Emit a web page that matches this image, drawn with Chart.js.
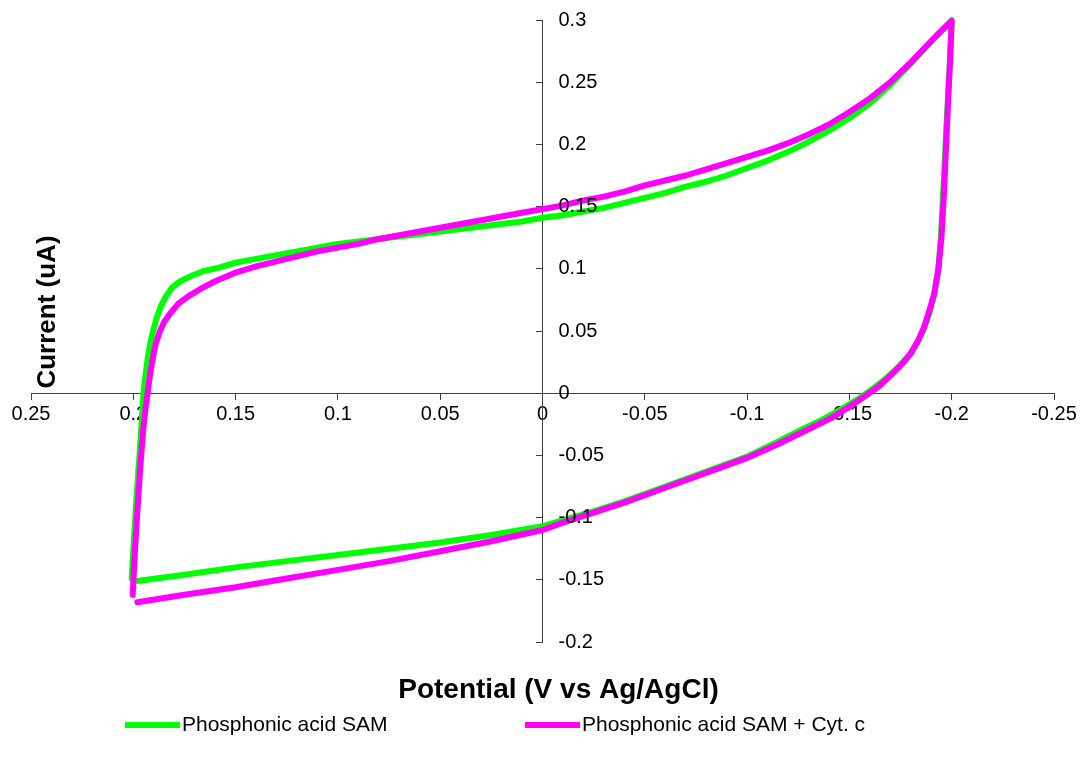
<!DOCTYPE html>
<html>
<head>
<meta charset="utf-8">
<script src="https://cdn.jsdelivr.net/npm/chart.js@4/dist/chart.umd.min.js"></script>
<style>
html,body{margin:0;padding:0;background:#ffffff;}
#wrap{width:1080px;height:766px;}
</style>
</head>
<body>
<div id="wrap"><canvas id="c" width="1080" height="766"></canvas></div>
<script>
// ---------- data ----------
const seriesNames = ['Phosphonic acid SAM', 'Phosphonic acid SAM + Cyt. c'];

// Phosphonic acid SAM: forward (upper) branch, reverse (lower) branch
const samX = [0.2008, 0.1998, 0.1985, 0.197, 0.1958, 0.195, 0.194, 0.1928, 0.1915, 0.190, 0.1885, 0.1865, 0.184, 0.181, 0.177, 0.172, 0.166, 0.158, 0.150,
  0.140, 0.130, 0.120, 0.110, 0.100, 0.090, 0.080, 0.070, 0.060, 0.050, 0.040, 0.030, 0.020, 0.010, 0.000,
  -0.010, -0.020, -0.030, -0.040, -0.050, -0.060, -0.070, -0.080, -0.090, -0.100, -0.110, -0.120, -0.130, -0.140, -0.150, -0.160, -0.170, -0.180, -0.190, -0.196, -0.200,
  -0.1992, -0.1982, -0.197, -0.1958, -0.1947, -0.1935, -0.1915, -0.189, -0.186, -0.183, -0.179, -0.174, -0.168, -0.161, -0.154, -0.146, -0.137, -0.127, -0.115,
  -0.100, -0.085, -0.070, -0.055, -0.040, -0.025, -0.010, 0.000, 0.025, 0.050, 0.075, 0.100, 0.125, 0.150, 0.175, 0.198];
const samY = [-0.149, -0.120, -0.085, -0.050, -0.020, 0.000, 0.015, 0.030, 0.042, 0.052, 0.061, 0.070, 0.078, 0.085, 0.090, 0.094, 0.098, 0.101, 0.105,
  0.108, 0.111, 0.114, 0.117, 0.120, 0.122, 0.124, 0.126, 0.128, 0.130, 0.132, 0.134, 0.136, 0.138, 0.141,
  0.143, 0.146, 0.149, 0.153, 0.157, 0.161, 0.166, 0.170, 0.175, 0.181, 0.187, 0.194, 0.202, 0.211, 0.221, 0.233, 0.248, 0.265, 0.283, 0.293, 0.300,
  0.270, 0.240, 0.200, 0.160, 0.125, 0.100, 0.080, 0.064, 0.050, 0.040, 0.030, 0.021, 0.012, 0.003, -0.005, -0.013, -0.021, -0.029, -0.039,
  -0.051, -0.060, -0.069, -0.078, -0.087, -0.095, -0.102, -0.107, -0.114, -0.120, -0.125, -0.130, -0.135, -0.140, -0.146, -0.151];

// Phosphonic acid SAM + Cyt. c
const cytX = [0.2003, 0.1993, 0.198, 0.1966, 0.1952, 0.194, 0.193, 0.1918, 0.1905, 0.189, 0.1872, 0.185, 0.182, 0.178, 0.173, 0.167, 0.160, 0.150,
  0.140, 0.130, 0.120, 0.110, 0.100, 0.090, 0.080, 0.070, 0.060, 0.050, 0.040, 0.030, 0.020, 0.010, 0.000,
  -0.010, -0.020, -0.030, -0.040, -0.050, -0.060, -0.070, -0.080, -0.090, -0.100, -0.110, -0.120, -0.130, -0.140, -0.150, -0.160, -0.170, -0.180, -0.190, -0.196, -0.200,
  -0.1993, -0.1984, -0.1973, -0.1962, -0.195, -0.1935, -0.1915, -0.189, -0.1865, -0.1835, -0.180, -0.176, -0.170, -0.164, -0.157, -0.150, -0.141, -0.130, -0.115,
  -0.100, -0.085, -0.070, -0.055, -0.040, -0.025, -0.010, 0.000, 0.025, 0.050, 0.075, 0.100, 0.125, 0.150, 0.175, 0.198];
const cytY = [-0.162, -0.130, -0.095, -0.060, -0.030, -0.012, 0.000, 0.015, 0.028, 0.040, 0.049, 0.057, 0.064, 0.072, 0.078, 0.084, 0.090, 0.097,
  0.102, 0.106, 0.110, 0.114, 0.117, 0.120, 0.124, 0.127, 0.130, 0.133, 0.136, 0.139, 0.142, 0.145, 0.148,
  0.151, 0.155, 0.158, 0.162, 0.167, 0.171, 0.175, 0.180, 0.185, 0.190, 0.195, 0.201, 0.208, 0.216, 0.226, 0.237, 0.250, 0.266, 0.283, 0.293, 0.299,
  0.270, 0.240, 0.200, 0.160, 0.125, 0.100, 0.080, 0.066, 0.053, 0.042, 0.032, 0.024, 0.014, 0.005, -0.003, -0.011, -0.020, -0.029, -0.041,
  -0.052, -0.061, -0.070, -0.079, -0.088, -0.096, -0.104, -0.110, -0.119, -0.127, -0.135, -0.142, -0.149, -0.156, -0.162, -0.168];

const xTickValues = [0.25, 0.2, 0.15, 0.1, 0.05, 0, -0.05, -0.1, -0.15, -0.2, -0.25];
const xTickLabels = ['0.25', '0.2', '0.15', '0.1', '0.05', '0', '-0.05', '-0.1', '-0.15', '-0.2', '-0.25'];
const yTickValues = [0.3, 0.25, 0.2, 0.15, 0.1, 0.05, 0, -0.05, -0.1, -0.15, -0.2];
const yTickLabels = ['0.3', '0.25', '0.2', '0.15', '0.1', '0.05', '0', '-0.05', '-0.1', '-0.15', '-0.2'];

const xTitle = 'Potential (V vs Ag/AgCl)';
const yTitle = 'Current (uA)';
const seriesColors = ['#00FF00', '#FF00FF'];

// ---------- chart ----------
const FONT = '"Liberation Sans", Arial, Helvetica, sans-serif';
const AXIS_COLOR = '#404040';

const overlay = {
  id: 'overlay',
  afterDraw(chart) {
    const ctx = chart.ctx;
    const xs = chart.scales.x, ys = chart.scales.y;
    ctx.save();
    ctx.fillStyle = '#000000';
    // y tick labels, right of the centred axis
    ctx.font = '20px ' + FONT;
    ctx.textAlign = 'left';
    ctx.textBaseline = 'middle';
    const axisX = xs.getPixelForValue(0);
    yTickValues.forEach((v, i) => {
      ctx.fillText(yTickLabels[i], axisX + 16, ys.getPixelForValue(v));
    });
    // axis titles
    ctx.font = 'bold 28px ' + FONT;
    ctx.textAlign = 'center';
    ctx.fillText(xTitle, (chart.chartArea.left + chart.chartArea.right) / 2 + 16, 690);
    ctx.font = 'bold 26px ' + FONT;
    ctx.save();
    ctx.translate(48, 312);
    ctx.rotate(-Math.PI / 2);
    ctx.fillText(yTitle, 0, 0);
    ctx.restore();
    // legend
    const legendY = 725;
    const starts = [125, 525];
    ctx.font = '21px ' + FONT;
    ctx.textAlign = 'left';
    chart.data.datasets.forEach((ds, i) => {
      ctx.strokeStyle = ds.borderColor;
      ctx.lineWidth = 6;
      ctx.lineCap = 'butt';
      ctx.beginPath();
      ctx.moveTo(starts[i], legendY);
      ctx.lineTo(starts[i] + 55, legendY);
      ctx.stroke();
      ctx.fillStyle = '#000000';
      ctx.fillText(ds.label, starts[i] + 57, legendY);
    });
    ctx.restore();
  }
};

function pts(xa, ya) { return xa.map((x, i) => ({x: x, y: ya[i]})); }

new Chart(document.getElementById('c'), {
  type: 'scatter',
  data: {
    datasets: [
      {label: seriesNames[0], data: pts(samX, samY), showLine: true, borderColor: seriesColors[0], backgroundColor: seriesColors[0],
       borderWidth: 6, pointRadius: 0, pointHoverRadius: 0, tension: 0, borderJoinStyle: 'round', borderCapStyle: 'round', clip: false, order: 1},
      {label: seriesNames[1], data: pts(cytX, cytY), showLine: true, borderColor: seriesColors[1], backgroundColor: seriesColors[1],
       borderWidth: 6, pointRadius: 0, pointHoverRadius: 0, tension: 0, borderJoinStyle: 'round', borderCapStyle: 'round', clip: false, order: 0}
    ]
  },
  options: {
    responsive: false,
    animation: false,
    devicePixelRatio: 1,
    events: [],
    layout: {padding: {left: 31, right: 26, top: 20, bottom: 124}},
    plugins: {legend: {display: false}, tooltip: {enabled: false}, title: {display: false}},
    scales: {
      x: {
        type: 'linear', min: -0.25, max: 0.25, reverse: true,
        position: {y: 0},
        afterBuildTicks: (s) => { s.ticks = xTickValues.map(v => ({value: v})); },
        afterFit: (s) => { s.height = 0; },
        ticks: {autoSkip: false, maxRotation: 0, minRotation: 0, padding: 3, color: '#000000',
                font: {family: FONT, size: 20},
                callback: (v) => xTickLabels[xTickValues.indexOf(v)]},
        grid: {drawOnChartArea: false, drawTicks: true, tickLength: 6, color: AXIS_COLOR, lineWidth: 1},
        border: {display: true, color: AXIS_COLOR, width: 1}
      },
      y: {
        type: 'linear', min: -0.2, max: 0.3,
        position: {x: 0},
        afterBuildTicks: (s) => { s.ticks = yTickValues.map(v => ({value: v})); },
        afterFit: (s) => { s.width = 0; },
        ticks: {display: false},
        grid: {drawOnChartArea: false, drawTicks: true, tickLength: 6, color: AXIS_COLOR, lineWidth: 1},
        border: {display: true, color: AXIS_COLOR, width: 1}
      }
    }
  },
  plugins: [overlay]
});
</script>
</body>
</html>
